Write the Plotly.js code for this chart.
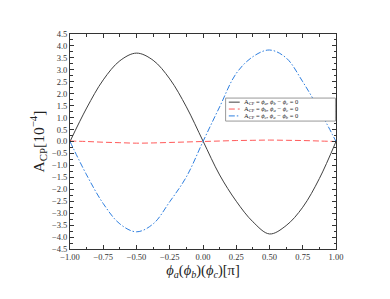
<!DOCTYPE html>
<html>
<head>
<meta charset="utf-8">
<script src="https://cdn.plot.ly/plotly-3.0.1.min.js"></script>
<style>html,body{margin:0;padding:0;background:#fff;}#chart{width:390px;height:299px;}</style>
</head>
<body>
<div id="chart"></div>
<script>
// phase values in units of pi
var phi = [-1, -0.875, -0.75, -0.625, -0.5, -0.375, -0.25, -0.125, 0, 0.125, 0.25, 0.375, 0.5, 0.625, 0.75, 0.875, 1];
// A_CP in units of 1e-4
var acpA = [0, 1.40, 2.58, 3.38, 3.70, 3.40, 2.62, 1.45, 0.02, -1.40, -2.50, -3.36, -3.87, -3.52, -2.75, -1.55, 0];
var acpB = [0.02, 0.00, -0.03, -0.05, -0.07, -0.06, -0.04, -0.02, 0.00, 0.02, 0.04, 0.05, 0.06, 0.05, 0.04, 0.02, 0.00];
var acpC = [0, -1.40, -2.60, -3.45, -3.78, -3.45, -2.52, -1.48, 0, 1.45, 2.85, 3.55, 3.83, 3.50, 2.50, 1.32, 0];
var names = [
  'A<sub>CP</sub> = <i>ϕ<sub>a</sub></i>, <i>ϕ<sub>b</sub></i> − <i>ϕ<sub>c</sub></i> = 0',
  'A<sub>CP</sub> = <i>ϕ<sub>b</sub></i>, <i>ϕ<sub>a</sub></i> − <i>ϕ<sub>c</sub></i> = 0',
  'A<sub>CP</sub> = <i>ϕ<sub>c</sub></i>, <i>ϕ<sub>a</sub></i> − <i>ϕ<sub>b</sub></i> = 0'
];
var colors = ['#404040', '#ff5a5a', '#2f7fe0'];
var dashes = ['solid', '6px,3px', '6px,2px,1.5px,2px'];
var ticksX = [-1, -0.75, -0.5, -0.25, 0, 0.25, 0.5, 0.75, 1];
var ticksY = [-4.5, -4, -3.5, -3, -2.5, -2, -1.5, -1, -0.5, 0, 0.5, 1, 1.5, 2, 2.5, 3, 3.5, 4, 4.5];

var series = [acpA, acpB, acpC];
var traces = series.map(function (ys, i) {
  return {
    x: phi, y: ys, type: 'scatter', mode: 'lines', name: names[i],
    line: {color: colors[i], width: 1, dash: dashes[i], shape: 'spline', smoothing: 1},
    showlegend: false
  };
});

var font = 'Liberation Serif, Times New Roman, serif';
var axisBase = {
  showgrid: false, zeroline: false, showline: true, linecolor: '#333', linewidth: 1,
  mirror: 'allticks', ticks: 'inside', ticklen: 4, tickwidth: 1, tickcolor: '#333',
  tickfont: {family: font, size: 8.5, color: '#333'}
};

// manual legend
var shapes = [{type: 'rect', xref: 'paper', yref: 'paper', x0: 0.585, x1: 0.998, y0: 0.595, y1: 0.702,
  line: {color: '#999', width: 1}, fillcolor: 'rgba(255,255,255,1)', layer: 'above'}];
var annotations = [];
var rowsY = [0.683, 0.651, 0.619];
for (var i = 0; i < 3; i++) {
  shapes.push({type: 'line', xref: 'paper', yref: 'paper', x0: 0.597, x1: 0.638, y0: rowsY[i], y1: rowsY[i],
    line: {color: colors[i], width: 1, dash: dashes[i]}, layer: 'above'});
  annotations.push({xref: 'paper', yref: 'paper', x: 0.648, y: rowsY[i], xanchor: 'left', yanchor: 'middle',
    text: names[i], showarrow: false, font: {family: font, size: 6.5, color: '#222'}});
}

var layout = {
  width: 390, height: 299,
  margin: {l: 70, r: 53.5, t: 34, b: 50},
  paper_bgcolor: '#fff', plot_bgcolor: '#fff',
  font: {family: font, color: '#222'},
  xaxis: Object.assign({}, axisBase, {
    range: [-1, 1], tickvals: ticksX, tickformat: '.2f',
    minor: {dtick: 0.125, ticks: 'inside', ticklen: 2.5, tickcolor: '#333'},
    title: {text: '<i>ϕ<sub>a</sub></i>(<i>ϕ<sub>b</sub></i>)(<i>ϕ<sub>c</sub></i>)[π]', font: {family: font, size: 14.5, color: '#222'}, standoff: 3}
  }),
  yaxis: Object.assign({}, axisBase, {
    range: [-4.5, 4.5], tickvals: ticksY, tickformat: '.1f',
    minor: {dtick: 0.25, ticks: 'inside', ticklen: 2.5, tickcolor: '#333'},
    title: {text: 'A<sub>CP</sub>[10<sup>−4</sup>]', font: {family: font, size: 15.5, color: '#222'}, standoff: 3}
  }),
  shapes: shapes,
  annotations: annotations
};

Plotly.newPlot('chart', traces, layout, {displayModeBar: false, staticPlot: true});
</script>
</body>
</html>
